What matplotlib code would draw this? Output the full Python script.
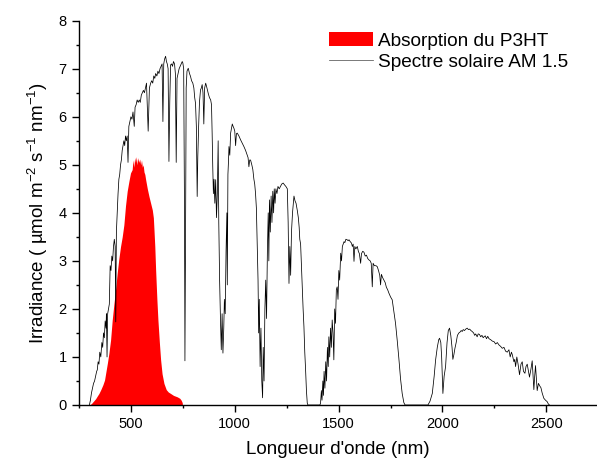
import matplotlib
matplotlib.use("Agg")
import matplotlib.pyplot as plt
from matplotlib.ticker import MultipleLocator

plt.rcParams['font.family'] = ['Liberation Sans', 'DejaVu Sans']
plt.rcParams['mathtext.fontset'] = 'custom'
plt.rcParams['mathtext.rm'] = 'Liberation Sans'
plt.rcParams['mathtext.it'] = 'Liberation Sans:italic'
plt.rcParams['mathtext.default'] = 'regular'

# ---- data ----
solar_nm = [300, 305, 310, 315, 320, 325, 330, 335, 338, 342, 346, 350, 355, 360, 364, 368, 372, 376, 380, 382,
            385, 388, 392, 396, 400, 404, 408, 412, 416, 420, 424, 427, 430, 434, 438, 442, 446, 450, 454, 458,
            462, 466, 470, 474, 478, 482, 486, 490, 495, 500, 505, 510, 516, 520, 525, 530, 535, 540, 545, 550,
            555, 560, 565, 570, 575, 583, 589, 595, 600, 605, 610, 615, 619, 625, 630, 635, 640, 645, 650, 654,
            658, 662, 667, 671, 675, 679, 683, 687, 691, 696, 700, 705, 710, 714, 718, 722, 727, 732, 737, 742,
            747, 750, 754, 758, 760, 763, 766, 770, 776, 782, 787, 792, 798, 803, 807, 811, 815, 819, 822, 826,
            830, 835, 839, 843, 847, 851, 855, 860, 866, 872, 878, 884, 888, 891, 894, 897, 900, 904, 908, 912,
            916, 920, 923, 927, 931, 935, 939, 943, 947, 950, 954, 958, 962, 964, 967, 970, 972, 976, 980, 984,
            988, 992, 996, 1000, 1004, 1008, 1012, 1020, 1028, 1036, 1044, 1052, 1060, 1064, 1068, 1072, 1076,
            1082, 1087, 1092, 1096, 1100, 1104, 1108, 1112, 1115, 1118, 1122, 1126, 1130, 1134, 1137, 1141, 1145,
            1149, 1153, 1157, 1161, 1164, 1167, 1171, 1175, 1179, 1183, 1187, 1190, 1194, 1198, 1203, 1208, 1214,
            1220, 1226, 1233, 1240, 1246, 1253, 1257, 1261, 1265, 1269, 1273, 1278, 1285, 1290, 1295, 1301, 1306,
            1310, 1313, 1317, 1321, 1325, 1329, 1333, 1337, 1341, 1345, 1349, 1352, 1410, 1413, 1417, 1420, 1424,
            1427, 1430, 1434, 1438, 1442, 1446, 1450, 1453, 1457, 1461, 1465, 1469, 1473, 1477, 1481, 1485, 1489,
            1493, 1497, 1501, 1505, 1510, 1514, 1518, 1522, 1526, 1530, 1535, 1541, 1546, 1550, 1556, 1562, 1566,
            1570, 1574, 1578, 1583, 1590, 1595, 1600, 1606, 1610, 1616, 1622, 1628, 1634, 1640, 1646, 1652, 1657,
            1662, 1666, 1672, 1680, 1686, 1692, 1698, 1702, 1706, 1712, 1718, 1724, 1730, 1736, 1742, 1750, 1758,
            1766, 1774, 1782, 1790, 1798, 1806, 1814, 1820, 1930, 1940, 1951, 1960, 1967, 1975, 1982, 1986, 1992,
            1996, 2002, 2008, 2015, 2022, 2028, 2034, 2040, 2046, 2050, 2055, 2060, 2066, 2072, 2079, 2085, 2090,
            2095, 2100, 2106, 2112, 2119, 2125, 2131, 2137, 2143, 2150, 2155, 2160, 2167, 2172, 2178, 2184, 2190,
            2196, 2200, 2206, 2212, 2218, 2224, 2232, 2240, 2248, 2256, 2264, 2272, 2280, 2288, 2296, 2304, 2312,
            2320, 2326, 2332, 2336, 2344, 2348, 2352, 2358, 2364, 2371, 2378, 2384, 2390, 2397, 2402, 2408, 2414,
            2419, 2426, 2432, 2436, 2440, 2444, 2448, 2452, 2456, 2462, 2468, 2474, 2480, 2488, 2496, 2504, 2510,
            2515]
solar_val = [0.0, 0.1, 0.25, 0.35, 0.45, 0.5, 0.6, 0.7, 0.73, 0.9, 0.85, 1.1, 1.0, 1.3, 1.2, 1.5, 1.4, 1.75, 1.6, 1.9,
             1.0, 1.9, 2.0, 2.1, 2.9, 2.8, 3.1, 3.0, 3.3, 3.45, 3.3, 1.73, 3.6, 4.0, 4.4, 4.7, 4.8, 5.0, 5.1, 5.3,
             5.4, 5.5, 5.4, 5.6, 5.5, 5.6, 5.05, 5.8, 5.9, 6.0, 5.95, 6.1, 5.8, 6.2, 6.25, 6.35, 6.3, 6.35, 6.3, 6.45,
             6.5, 6.55, 6.5, 6.6, 6.7, 5.7, 6.6, 6.7, 6.75, 6.7, 6.85, 6.8, 6.9, 6.85, 6.95, 6.9, 7.0, 7.05, 7.1, 5.9,
             7.1, 7.2, 7.26, 7.15, 7.1, 7.0, 5.07, 6.3, 7.08, 7.1, 7.05, 7.15, 7.1, 6.9, 5.05, 6.8, 6.9, 7.0, 7.05, 7.1,
             7.15, 7.12, 7.0, 4.0, 0.92, 3.5, 6.6, 6.95, 7.01, 6.9, 6.84, 6.75, 6.7, 6.6, 6.4, 6.28, 5.8, 4.34, 5.17, 5.8,
             6.3, 6.56, 6.6, 6.67, 6.5, 5.85, 6.6, 6.7, 6.6, 6.49, 6.4, 6.35, 6.25, 5.66, 4.96, 4.4, 4.7, 4.2, 4.69, 3.9,
             4.4, 5.5, 3.8, 2.6, 1.8, 1.15, 1.9, 1.08, 1.6, 2.2, 1.9, 3.2, 4.0, 2.5, 4.8, 5.1, 5.38, 5.2, 5.66, 5.75,
             5.85, 5.8, 5.76, 5.7, 5.4, 5.65, 5.66, 5.6, 5.52, 5.45, 5.38, 5.3, 5.2, 5.15, 4.96, 5.1, 5.1,
             5.0, 4.9, 4.7, 4.6, 4.4, 4.1, 3.3, 2.6, 1.5, 2.2, 0.8, 1.6, 0.5, 0.15, 1.2, 0.5, 2.0,
             2.6, 1.8, 3.2, 4.0, 3.0, 4.27, 3.6, 4.35, 3.8, 4.45, 4.0, 4.5, 4.2, 4.5, 4.4, 4.55, 4.5,
             4.55, 4.6, 4.62, 4.58, 4.55, 4.5, 3.8, 2.53, 3.3, 2.7, 3.6, 4.0, 4.35, 4.25, 4.2, 4.05, 3.9,
             3.7, 3.45, 3.35, 2.9, 2.46, 2.0, 1.63, 1.1, 0.73, 0.3, 0.04, 0.0, 0.0, 0.04, 0.3, 0.1, 0.5,
             0.2, 0.7, 0.35, 0.9, 0.5, 1.2, 0.8, 1.42, 1.0, 1.6, 1.2, 1.77, 1.5, 0.94, 2.0, 1.7, 2.4,
             2.46, 2.2, 2.8, 2.6, 3.16, 3.0, 3.3, 3.35, 3.4, 3.38, 3.45, 3.44, 3.42, 3.44, 3.4, 3.37, 3.3,
             3.35, 2.99, 3.3, 3.25, 3.3, 3.2, 3.15, 2.95, 3.15, 3.2, 3.18, 3.1, 3.12, 3.05, 3.02, 3.0, 2.95,
             2.46, 2.95, 2.9, 2.9, 2.88, 2.8, 2.7, 2.5, 2.72, 2.65, 2.6, 2.55, 2.45, 2.4, 2.33, 2.25, 2.19,
             1.95, 1.7, 1.35, 0.97, 0.55, 0.24, 0.05, 0.0, 0.0, 0.08, 0.24, 0.6, 0.94, 1.2, 1.36, 1.39, 1.3,
             1.0, 0.24, 0.6, 0.8, 1.3, 1.55, 1.6, 1.45, 1.2, 0.95, 1.05, 1.18, 1.3, 1.45, 1.5, 1.52, 1.55,
             1.53, 1.57, 1.55, 1.58, 1.6, 1.57, 1.58, 1.55, 1.53, 1.5, 1.45, 1.48, 1.42, 1.48, 1.47, 1.42, 1.45,
             1.4, 1.42, 1.44, 1.38, 1.43, 1.38, 1.36, 1.33, 1.32, 1.27, 1.3, 1.25, 1.22, 1.18, 1.2, 1.12, 1.1,
             1.15, 1.0, 1.1, 1.05, 0.9, 0.95, 0.8, 1.0, 0.85, 0.63, 0.85, 0.9, 0.7, 0.66, 0.8, 0.85, 0.7,
             0.58, 0.75, 0.92, 0.6, 0.32, 0.6, 0.82, 0.55, 0.3, 0.45, 0.4, 0.36, 0.25, 0.14, 0.1, 0.07, 0.02,
             0.0]

p3ht_nm = [300, 310, 320, 330, 340, 346, 355, 365, 373, 380, 387, 394, 402, 410, 418, 426, 434, 442, 450, 458,
           466, 474, 482, 490, 498, 506, 510, 514, 518, 522, 526, 530, 534, 538, 542, 547, 551, 555, 559, 563,
           567, 571, 579, 587, 595, 603, 608, 611, 615, 619, 625, 630, 637, 643, 650, 659, 670, 680, 691, 705,
           723, 735, 742, 747, 748]
p3ht_val = [0.0, 0.03, 0.08, 0.13, 0.2, 0.24, 0.32, 0.42, 0.52, 0.7, 0.88, 1.08, 1.35, 1.77, 2.1, 2.4, 2.75, 3.05, 3.3, 3.5,
            3.75, 4.15, 4.45, 4.65, 4.83, 4.9, 5.1, 4.95, 5.15, 5.05, 5.17, 5.0, 5.15, 5.05, 5.12, 5.0, 5.1, 4.95, 5.0, 4.85,
            4.8, 4.69, 4.5, 4.34, 4.2, 4.06, 3.9, 3.65, 3.3, 2.81, 2.2, 1.77, 1.3, 0.94, 0.65, 0.45, 0.32, 0.27, 0.24, 0.2,
            0.17, 0.14, 0.1, 0.05, 0.0]

x_ticks = [500, 1000, 1500, 2000, 2500]
y_ticks = [0, 1, 2, 3, 4, 5, 6, 7, 8]

labels = ["Absorption du P3HT", "Spectre solaire AM 1.5"]

# ---- figure ----
fig = plt.figure(figsize=(5.97, 4.63), dpi=100)
ax = fig.add_axes([79 / 597, 1 - 405 / 463, 1 - 79 / 597, (405 - 20.7) / 463])

ax.fill_between(p3ht_nm, p3ht_val, 0, color='#ff0000', linewidth=0, label=labels[0])
ax.plot(solar_nm, solar_val, color='black', linewidth=0.55, label=labels[1])

ax.set_xlim(250, 2744)
ax.set_ylim(0, 8)
ax.set_xticks(x_ticks)
ax.set_yticks(y_ticks)
ax.xaxis.set_minor_locator(MultipleLocator(250))
ax.yaxis.set_minor_locator(MultipleLocator(0.5))

for s in ['top', 'right']:
    ax.spines[s].set_visible(False)
for s in ['left', 'bottom']:
    ax.spines[s].set_linewidth(1.0)

ax.tick_params(which='major', direction='out', length=5, width=1.0, labelsize=10.5, pad=4)
ax.tick_params(which='minor', direction='out', length=2.5, width=1.0)

ax.set_xlabel("Longueur d'onde (nm)", fontsize=13.5, labelpad=7)
ax.set_ylabel("Irradiance ( µmol m$^{-2}$ s$^{-1}$ nm$^{-1}$)", fontsize=13.5, labelpad=6)

leg = ax.legend(loc='upper left', bbox_to_anchor=(329 / 597, 1 - 32 / 463), bbox_transform=fig.transFigure,
                frameon=False, fontsize=13.7, handlelength=2.3, handleheight=0.75, handletextpad=0.28,
                labelspacing=0.2, borderpad=0, borderaxespad=0)
for ln in leg.get_lines():
    ln.set_color('#555555')

fig.savefig("out.png", dpi=100)
